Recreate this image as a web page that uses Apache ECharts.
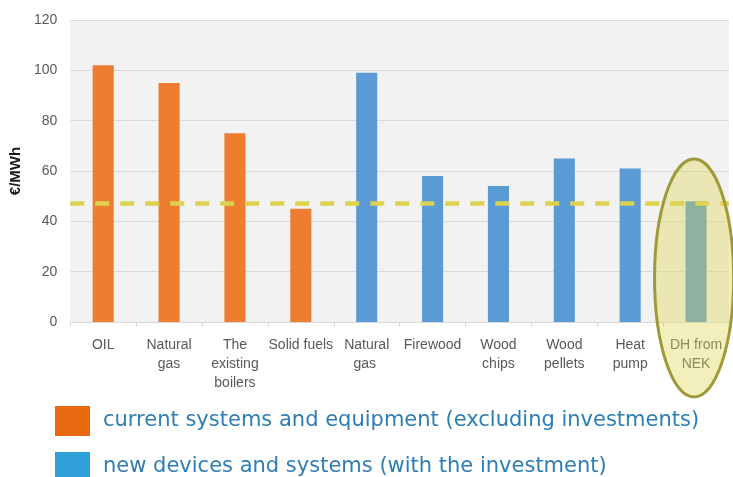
<!DOCTYPE html>
<html>
<head>
<meta charset="utf-8">
<script src="https://cdn.jsdelivr.net/npm/echarts@6/dist/echarts.min.js"></script>
<style>html,body{margin:0;padding:0;background:#fff;}#c{width:733px;height:477px;}</style>
</head>
<body>
<div id="c"></div>
<script>
const categories = ['OIL', 'Natural\ngas', 'The\nexisting\nboilers', 'Solid fuels', 'Natural\ngas ', 'Firewood', 'Wood\nchips', 'Wood\npellets', 'Heat\npump', 'DH from\nNEK'];
const currentValues = [102, 95, 75, 45, '-', '-', '-', '-', '-', '-'];
const newValues = ['-', '-', '-', '-', 99, 58, 54, 65, 61, 48];
const thresholdValue = 47.3;
const yTicks = { min: 0, max: 120, interval: 20 };
const seriesNames = ['current systems and equipment (excluding investments)', 'new devices and systems (with the investment)'];

const legendText = { fontFamily: 'DejaVu Sans', fontSize: 21, color: '#2e7db3', padding: [0, 0, 0, 8] };
const chart = echarts.init(document.getElementById('c'), null, { renderer: 'canvas' });
const option = {
  animation: false,
  backgroundColor: '#ffffff',
  grid: { left: 70, right: 4, top: 20, bottom: 155, show: true, backgroundColor: '#f2f2f2', borderWidth: 0 },
  legend: [
    {
      left: 55, top: 406, itemWidth: 35, itemHeight: 30, icon: 'rect', selectedMode: false, padding: 0,
      textStyle: legendText,
      data: [{ name: seriesNames[0], itemStyle: { color: '#e8690f' } }]
    },
    {
      left: 55, top: 452, itemWidth: 35, itemHeight: 30, icon: 'rect', selectedMode: false, padding: 0,
      textStyle: legendText,
      data: [{ name: seriesNames[1], itemStyle: { color: '#2f9fd8' } }]
    }
  ],
  xAxis: {
    type: 'category', data: categories,
    axisLine: { lineStyle: { color: '#d9d9d9', width: 1 } },
    axisTick: { show: true, length: 5, lineStyle: { color: '#d9d9d9' } },
    axisLabel: { interval: 0, fontFamily: 'Liberation Sans', fontSize: 14, color: '#595959', lineHeight: 19, margin: 14 }
  },
  yAxis: {
    type: 'value', min: yTicks.min, max: yTicks.max, interval: yTicks.interval,
    name: '€/MWh', nameLocation: 'middle', nameGap: 44,
    nameTextStyle: { fontFamily: 'Liberation Sans', fontSize: 15, fontWeight: 'bold', color: '#1a1a1a' },
    axisLine: { show: false }, axisTick: { show: false },
    splitLine: { lineStyle: { color: '#d9d9d9', width: 1 } },
    axisLabel: { fontFamily: 'Liberation Sans', fontSize: 14, color: '#595959', margin: 13 }
  },
  series: [
    { name: seriesNames[0], type: 'bar', stack: 'a', barWidth: '32%', data: currentValues, itemStyle: { color: '#ed7d31' }, z: 2 },
    { name: seriesNames[1], type: 'bar', stack: 'a', barWidth: '32%', data: newValues, itemStyle: { color: '#5b9bd5' }, z: 2 },
    {
      name: 'threshold', type: 'line', data: [], z: 20,
      markLine: {
        silent: true, symbol: 'none', label: { show: false },
        lineStyle: { color: '#dcd24f', width: 4.5, type: [14, 11], opacity: 1 },
        data: [{ yAxis: thresholdValue }]
      }
    }
  ]
};
chart.setOption(option);

// highlight ellipse around the last category
const last = categories.length - 1;
const pC = chart.convertToPixel({ gridIndex: 0 }, [categories[last], 17.5]);
const pPrev = chart.convertToPixel({ gridIndex: 0 }, [categories[last - 1], 17.5]);
const pTop = chart.convertToPixel({ gridIndex: 0 }, [categories[last], 17.5 + 47.3]);
const band = pC[0] - pPrev[0];
chart.setOption({
  graphic: [{
    type: 'ellipse', z: 10, silent: true,
    shape: { cx: pC[0] - 2, cy: pC[1], rx: band * 0.6, ry: pC[1] - pTop[1] },
    style: { fill: 'rgba(224,214,83,0.39)', stroke: '#9e9a3a', lineWidth: 3 }
  }]
});
</script>
</body>
</html>
